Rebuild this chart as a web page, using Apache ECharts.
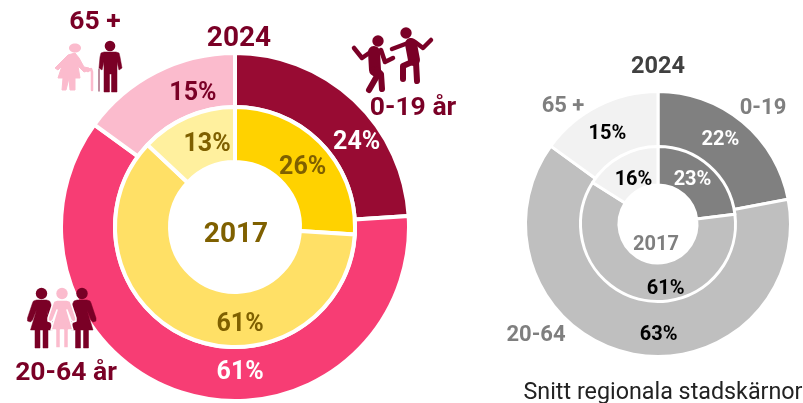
<!DOCTYPE html>
<html><head><meta charset="utf-8">
<style>html,body{margin:0;padding:0;background:#fff}#c{width:803px;height:403px}</style>
<script src="https://cdn.jsdelivr.net/npm/echarts@6/dist/echarts.min.js"></script></head>
<body><div id="c"></div>
<script>
const ageGroups = ['0-19', '20-64', '65 +'];
const mainOuter2024 = [24, 61, 15];
const mainInner2017 = [26, 61, 13];
const avgOuter2024 = [22, 63, 15];
const avgInner2017 = [23, 61, 16];
const mainOuterColors = ['#980b33', '#f73d74', '#fbbbcd'];
const mainInnerColors = ['#ffd200', '#ffe066', '#fff09e'];
const avgColors = ['#808080', '#bfbfbf', '#f2f2f2'];
const maroon = '#7a0026', pink = '#fbbbcd', olive = '#7f6000', grey = '#7f7f7f';
const FONT = 'Roboto, "Liberation Sans", sans-serif';

function ring(name, values, colors, center, radius, labelColors, fontSize, bw, offsets) {
  return {
    type: 'pie', name, center, radius, startAngle: 90, clockwise: true, animation: false, silent: true,
    avoidLabelOverlap: false, labelLine: { show: false },
    data: values.map((v, i) => ({
      value: v, name: ageGroups[i],
      itemStyle: { color: colors[i], borderColor: '#fff', borderWidth: bw },
      label: { color: labelColors[i], offset: offsets[i] }
    })),
    label: { show: true, position: 'inside', formatter: '{c}%', fontFamily: FONT, fontWeight: 700, fontSize }
  };
}
function txt(text, x, y, size, color, weight) {
  return { type: 'text', x, y, silent: true, style: { text, fontFamily: FONT, fontSize: size, fontWeight: weight || 700, fill: color, align: 'center', verticalAlign: 'middle' } };
}
function poly(points, color, stroke, lw) {
  return { type: 'polygon', silent: true, shape: { points }, style: { fill: color, stroke: stroke || color, lineWidth: lw === undefined ? 1 : lw, lineJoin: 'round' } };
}
function limb(points, width, color) {
  return { type: 'polyline', silent: true, shape: { points }, style: { stroke: color, lineWidth: width, fill: null, lineCap: 'round', lineJoin: 'round' } };
}
function dot(cx, cy, r, color) {
  return { type: 'circle', silent: true, shape: { cx, cy, r }, style: { fill: color } };
}
function woman(cx, color, outline) {
  return { type: 'group', x: cx, y: 288, silent: true, children: [
    poly([[-5,12],[5,12],[8,13],[9,15],[14,30],[14,33],[11,34],[9,32],[5,22],[11,42],[6.5,42],[6.5,60],[1.5,60],[1.5,42],[-1.5,42],[-1.5,60],[-6.5,60],[-6.5,42],[-11,42],[-5,22],[-9,32],[-11,34],[-14,33],[-14,30],[-9,15],[-8,13]], color, outline ? '#fff' : color, outline ? 1.5 : 0.5),
    dot(0, 5.5, 5.7, color)
  ]};
}
const icons = [
  woman(41.5, maroon), woman(82, maroon), woman(62, pink, true),
  { type: 'ellipse', silent: true, shape: { cx: 75, cy: 48, rx: 6, ry: 4.5 }, style: { fill: pink } },
  poly([[68,55],[75,53],[79,58],[84,67],[89,68],[91,70],[84,72],[78,66],[80,78],[75,78],[75,90],[70,90],[69,78],[66,90],[62,90],[63,78],[58,78],[62,66],[58,70],[55,68]], pink),
  limb([[88, 71], [91, 69], [92, 72], [92, 90]], 2.5, pink),
  dot(110, 46, 5.3, maroon),
  poly([[104,52],[116,52],[119,53],[120,57],[122,68],[119,70],[117,62],[117,92],[111.5,92],[111.5,74],[109.5,74],[109.5,92],[104,92],[104,62],[102,70],[99,68],[100,57],[101,53]], maroon, maroon, 0.5),
  limb([[99, 69], [99, 91]], 1.5, '#a86a80'),
  dot(378, 41, 5.7, maroon), dot(406, 33, 5.7, maroon),
  limb([[354, 48], [362, 58], [372, 51]], 4.5, maroon),
  limb([[381, 50], [385, 62], [393, 58]], 4.5, maroon),
  limb([[374, 52], [375, 70]], 12, maroon),
  limb([[373, 70], [377, 76], [369, 90]], 6, maroon),
  limb([[377, 70], [381, 74], [382, 89]], 6, maroon),
  limb([[392, 49], [408, 43]], 4.5, maroon),
  limb([[415, 42], [423, 48], [431, 40]], 4.5, maroon),
  limb([[411, 44], [414, 60]], 12, maroon),
  limb([[412, 62], [403, 66], [403, 79]], 6, maroon),
  limb([[416, 62], [417, 81]], 6, maroon)
];
const labels = [
  txt('65 +', 95, 22, 26.5, maroon),
  txt('2024', 239, 39, 28, maroon),
  txt('0-19 år', 413, 108, 26.5, maroon),
  txt('20-64 år', 66, 373, 26.5, maroon),
  txt('2017', 236, 235, 28, olive),
  txt('2024', 658, 67, 23.5, '#404040'),
  txt('65 +', 563, 106, 22, grey),
  txt('0-19', 763, 108, 22, grey),
  txt('20-64', 536, 335, 22, grey),
  txt('2017', 656, 245, 20, grey),
  txt('Snitt regionala stadskärnor', 663, 393, 23.3, '#222', 400)
];
function raise(el) {
  el.z = 100;
  if (el.children) el.children.forEach(raise);
  return el;
}
const W = '#fff', B = '#000';
const option = {
  backgroundColor: '#fff',
  animation: false,
  series: [
    ring('main2024', mainOuter2024, mainOuterColors, [235, 227], [120, 174], [W, W, maroon], 25, 4, [[19,25],[47,2],[26,0]]),
    ring('main2017', mainInner2017, mainInnerColors, [235, 227], [65, 120], [olive, olive, olive], 25, 4, [[-2,6],[43,10],[10,5]]),
    ring('avg2024', avgOuter2024, avgColors, [658, 224], [76, 132.5], [W, B, B], 20, 3, [[-6,-1],[24,6],[-2,6]]),
    ring('avg2017', avgInner2017, avgColors, [658, 224], [39, 77.5], [W, B, B], 20, 3, [[-6,2],[21,5],[5,10]])
  ],
  graphic: { elements: icons.concat(labels).map(raise) }
};
echarts.init(document.getElementById('c'), null, { renderer: 'canvas' }).setOption(option);
</script></body></html>
